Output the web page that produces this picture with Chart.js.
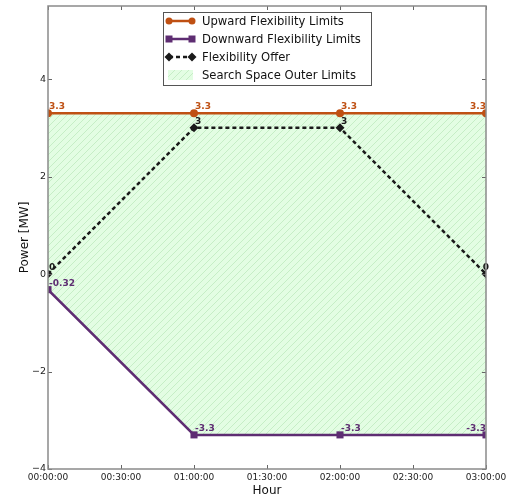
<!DOCTYPE html>
<html lang="en">
<head>
<meta charset="UTF-8">
<title>Flexibility</title>
<script src="https://cdn.jsdelivr.net/npm/chart.js"></script>
<style>
  html, body { margin: 0; padding: 0; background: #fff; }
  #box { width: 515px; height: 498px; }
</style>
</head>
<body>
<div id="box"><canvas id="grafico"></canvas></div>
<script>
// dados
var minutos = [0, 60, 120, 180];
var upward = [3.3, 3.3, 3.3, 3.3];
var downward = [-0.32, -3.3, -3.3, -3.3];
var offer = [0, 3, 3, 0];
var xTicks = [0, 30, 60, 90, 120, 150, 180];
var xTickLabels = ['00:00:00', '00:30:00', '01:00:00', '01:30:00', '02:00:00', '02:30:00', '03:00:00'];
var yTicks = [-4, -2, 0, 2, 4];

var corUp = '#bf5013';
var corDown = '#5e2d72';
var corOffer = '#1a1a1a';
var fonte = 'DejaVu Sans';

function pts(ys) {
    return minutos.map(function (m, i) { return { x: m, y: ys[i] }; });
}

// hachura verde
function hachura() {
    var c = document.createElement('canvas');
    c.width = 7; c.height = 7;
    var g = c.getContext('2d');
    g.fillStyle = '#e3fde3';
    g.fillRect(0, 0, 7, 7);
    g.strokeStyle = '#c6eec6';
    g.lineWidth = 1;
    g.beginPath();
    g.moveTo(0, 7); g.lineTo(7, 0);
    g.moveTo(-1, 1); g.lineTo(1, -1);
    g.moveTo(6, 8); g.lineTo(8, 6);
    g.stroke();
    return g.createPattern(c, 'repeat');
}
var padrao = hachura();

// rotulos dos pontos
var rotulos = {
    id: 'rotulos',
    afterDatasetsDraw: function (chart) {
        var ctx = chart.ctx;
        ctx.save();
        ctx.textBaseline = 'alphabetic';
        [0, 1, 2].forEach(function (d) {
            var meta = chart.getDatasetMeta(d);
            var ds = chart.data.datasets[d];
            meta.data.forEach(function (p, i) {
                var txt = String(ds.data[i].y);
                ctx.fillStyle = d == 2 ? corOffer : ds.borderColor;
                ctx.font = 'bold 9px ' + fonte;
                var last = i == meta.data.length - 1;
                if (last) {
                    ctx.textAlign = d == 2 ? 'center' : 'right';
                } else {
                    ctx.textAlign = 'left';
                }
                var dx = last ? 0 : 1;
                ctx.fillText(txt, p.x + dx, p.y - 4);
            });
        });
        ctx.restore();
    }
};

// moldura, ticks e legenda
var moldura = {
    id: 'moldura',
    afterDraw: function (chart) {
        var ctx = chart.ctx;
        var a = chart.chartArea;
        var sx = chart.scales.x, sy = chart.scales.y;
        ctx.save();
        ctx.strokeStyle = '#666';
        ctx.lineWidth = 1;
        ctx.beginPath();
        xTicks.forEach(function (t) {
            var x = Math.round(sx.getPixelForValue(t)) + 0.5;
            ctx.moveTo(x, a.bottom); ctx.lineTo(x, a.bottom - 4);
            ctx.moveTo(x, a.top); ctx.lineTo(x, a.top + 4);
        });
        yTicks.forEach(function (t) {
            var y = Math.round(sy.getPixelForValue(t)) + 0.5;
            ctx.moveTo(a.left, y); ctx.lineTo(a.left + 4, y);
            ctx.moveTo(a.right, y); ctx.lineTo(a.right - 4, y);
        });
        ctx.stroke();
        ctx.strokeStyle = '#8a8a8a';
        ctx.lineWidth = 1.5;
        ctx.strokeRect(a.left, a.top, a.right - a.left, a.bottom - a.top);

        // legenda
        var lx = 163, ly = 12, lw = 208, lh = 73;
        ctx.fillStyle = '#fff';
        ctx.fillRect(lx, ly, lw, lh);
        ctx.strokeStyle = '#555';
        ctx.lineWidth = 1;
        ctx.strokeRect(lx + 0.5, ly + 0.5, lw, lh);
        var ds = chart.data.datasets;
        var linhas = [21, 39, 57, 75];
        ctx.font = '11.6px ' + fonte;
        ctx.textBaseline = 'middle';
        ctx.textAlign = 'left';
        for (var k = 0; k < 4; k++) {
            var y = linhas[k];
            if (k < 3) {
                ctx.strokeStyle = ds[k].borderColor;
                ctx.lineWidth = 2.5;
                ctx.setLineDash(ds[k].borderDash || []);
                ctx.beginPath();
                ctx.moveTo(169, y); ctx.lineTo(192, y);
                ctx.stroke();
                ctx.setLineDash([]);
                ctx.fillStyle = ds[k].pointBackgroundColor;
                [169, 192].forEach(function (x) {
                    ctx.beginPath();
                    if (k == 0) {
                        ctx.arc(x, y, 3.5, 0, Math.PI * 2);
                    } else if (k == 1) {
                        ctx.rect(x - 3.5, y - 3.5, 7, 7);
                    } else {
                        ctx.moveTo(x, y - 4.5); ctx.lineTo(x + 4.5, y); ctx.lineTo(x, y + 4.5); ctx.lineTo(x - 4.5, y); ctx.closePath();
                    }
                    ctx.fill();
                });
            } else {
                ctx.fillStyle = padrao;
                ctx.fillRect(168, y - 5, 25, 10);
            }
            ctx.fillStyle = '#111';
            ctx.fillText(ds[k].label, 202, y + 1);
        }
        ctx.restore();
    }
};

var config = {
    type: 'line',
    data: {
        datasets: [{
            label: 'Upward Flexibility Limits',
            data: pts(upward),
            borderColor: corUp,
            backgroundColor: corUp,
            pointBackgroundColor: corUp,
            pointBorderColor: corUp,
            borderWidth: 2.5,
            pointStyle: 'circle',
            pointRadius: 4,
            pointBorderWidth: 0,
            fill: false
        }, {
            label: 'Downward Flexibility Limits',
            data: pts(downward),
            borderColor: corDown,
            backgroundColor: corDown,
            pointBackgroundColor: corDown,
            pointBorderColor: corDown,
            borderWidth: 2.5,
            pointStyle: 'rect',
            pointRadius: 5,
            pointBorderWidth: 0,
            fill: false
        }, {
            label: 'Flexibility Offer',
            data: pts(offer),
            borderColor: corOffer,
            backgroundColor: corOffer,
            pointBackgroundColor: corOffer,
            pointBorderColor: corOffer,
            borderWidth: 2.5,
            borderDash: [4, 3],
            pointStyle: 'rectRot',
            pointRadius: 4.5,
            pointBorderWidth: 0,
            fill: false
        }, {
            label: 'Search Space Outer Limits',
            data: pts(upward),
            borderWidth: 0,
            borderColor: 'rgba(0,0,0,0)',
            backgroundColor: padrao,
            pointRadius: 0,
            fill: { target: 1 }
        }]
    },
    options: {
        responsive: false,
        animation: false,
        layout: { padding: { left: 0, right: 29, top: 6, bottom: 0 } },
        plugins: {
            legend: { display: false },
            tooltip: { enabled: false },
            filler: { drawTime: 'beforeDatasetsDraw' }
        },
        scales: {
            x: {
                type: 'linear',
                min: 0,
                max: 180,
                afterBuildTicks: function (s) { s.ticks = xTicks.map(function (v) { return { value: v }; }); },
                afterFit: function (s) { s.height = 29; s.paddingLeft = 0; s.paddingRight = 0; },
                grid: { display: false, drawTicks: false },
                border: { display: false },
                ticks: {
                    padding: 3,
                    maxRotation: 0,
                    color: '#222',
                    font: { family: fonte, size: 9 },
                    callback: function (v) { return xTickLabels[xTicks.indexOf(v)]; }
                },
                title: { display: true, text: 'Hour', color: '#111', padding: 0, font: { family: fonte, size: 12 } }
            },
            y: {
                type: 'linear',
                min: -4,
                max: 5.5,
                afterBuildTicks: function (s) { s.ticks = yTicks.map(function (v) { return { value: v }; }); },
                afterFit: function (s) { s.width = 48; s.paddingTop = 0; s.paddingBottom = 0; },
                grid: { display: false, drawTicks: false },
                border: { display: false },
                ticks: {
                    padding: 2,
                    color: '#222',
                    font: { family: fonte, size: 9.5 },
                    callback: function (v) { return v < 0 ? '\u2212' + Math.abs(v) : String(v); }
                },
                title: { display: true, text: 'Power [MW]', color: '#111', padding: { top: 18, bottom: 0 }, font: { family: fonte, size: 12 } }
            }
        }
    },
    plugins: [rotulos, moldura]
};

var c = document.getElementById('grafico');
c.width = 515; c.height = 498;
var myChart = new Chart(c, config);
</script>
</body>
</html>
